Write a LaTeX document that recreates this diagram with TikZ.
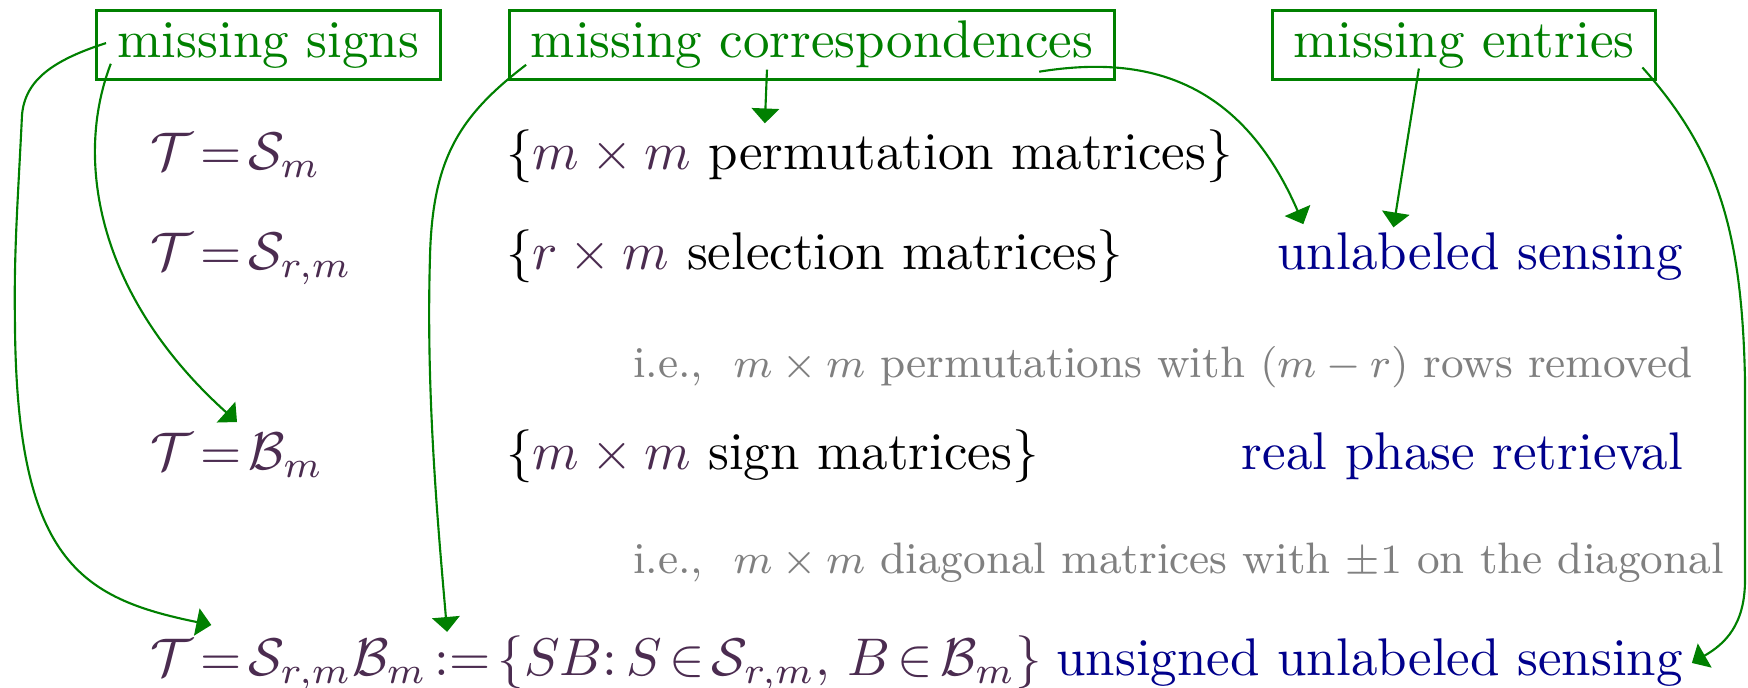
\documentclass[tikz,border=0pt]{standalone}
\usepackage{amsmath}
\usetikzlibrary{arrows.meta}
\definecolor{cue}{RGB}{0,128,0}
\definecolor{navy}{RGB}{0,0,140}
\definecolor{mathink}{HTML}{4B2C50}
\definecolor{muted}{RGB}{128,128,128}
\thickmuskip=2.5mu plus 5mu
\newcommand{\notetext}[1]{\scalebox{0.977}{#1}}

\begin{document}
\begin{tikzpicture}[x=1cm,y=1cm,>={Triangle[width=5.2pt,length=2.8pt]},
  missbox/.style={draw=cue,line width=0.6pt,text=cue,inner xsep=4pt,inner ysep=2pt,
    text height=7pt,text depth=2pt,anchor=base},
  missarrow/.style={draw=cue,->,line width=0.4pt},
  lhs/.style={inner sep=0pt,anchor=base west,text=mathink},
  setrow/.style={inner sep=0pt,anchor=base west},
  prob/.style={inner sep=0pt,anchor=base east,text=navy},
  aside/.style={inner sep=0pt,anchor=base west,text=muted,font=\fontsize{8.5}{10}\selectfont}]
  \path[use as bounding box,fill=white] (0,0) rectangle (11.592,4.562);

  % what is missing
  \node[missbox] (signs) at (1.78,4.178) {missing signs};
  \node[missbox] (corr) at (5.385,4.178) {missing correspondences};
  \node[missbox] (entries) at (9.708,4.178) {missing entries};

  % left column
  \node[lhs] (tS) at (0.99,3.435) {$\mathcal{T}=\mathcal{S}_m$};
  \node[lhs] (tSr) at (0.99,2.772) {$\mathcal{T}=\mathcal{S}_{r,m}$};
  \node[lhs] (tB) at (0.99,1.446) {$\mathcal{T}=\mathcal{B}_m$};
  \node[lhs] (tSB) at (0.99,0.08)
    {$\mathcal{T}=\mathcal{S}_{r,m}\mathcal{B}_m:=\{SB\mathpunct{:}S\in\mathcal{S}_{r,m},\,B\in\mathcal{B}_m\}$};

  % sets
  \node[setrow] (perm) at (3.35,3.435) {\{\textcolor{mathink}{$m\times m$} permutation matrices\}};
  \node[setrow] (sel) at (3.35,2.772) {\{\textcolor{mathink}{$r\times m$} selection matrices\}};
  \node[setrow] (sign) at (3.35,1.446) {\{\textcolor{mathink}{$m\times m$} sign matrices\}};
  \node[aside] (noteperm) at (4.191,2.062)
    {\notetext{i.e.,\ \ $m\times m$ permutations with $(m-r)$ rows removed}};
  \node[aside] (notediag) at (4.191,0.756)
    {\notetext{i.e.,\ \ $m\times m$ diagonal matrices with $\pm1$ on the diagonal}};

  % problems
  \node[prob] (uls) at (11.167,2.772) {unlabeled sensing};
  \node[prob] (rpr) at (11.167,1.446) {real phase retrieval};
  \node[prob] (uuls) at (11.167,0.08) {unsigned unlabeled sensing};

  % arrows
  \draw[missarrow] ([shift={(3pt,3.2pt)}]signs.south west)
    .. controls +(-0.25,-0.65) and +(-0.915,0.822) .. ([yshift=2pt]tB.north);
  \draw[missarrow] ([shift={(2.1pt,0.3pt)}]signs.west)
    .. controls +(-0.351,-0.113) and +(0.02,0.232) .. (0.146,3.8)
    .. controls +(-0.027,-0.564) and +(-0.007,0.464) .. (0.099,2.44)
    .. controls +(0.007,-1.592) and +(-0.875,0.179) .. ([shift={(11.7pt,1.9pt)}]tSB.north west);
  \draw[missarrow] ([shift={(3.4pt,3pt)}]corr.south west)
    .. controls +(-0.451,-0.345) and +(0.013,0.663) .. (2.851,2.838)
    .. controls +(-0.027,-0.928) and +(-0.053,0.623) .. ([shift={(56.2pt,0.6pt)}]tSB.north west);
  \draw[missarrow] ([shift={(-8.5pt,2.1pt)}]corr.south) -- ([shift={(49pt,1.1pt)}]perm.north west);
  \draw[missarrow] ([shift={(-14.5pt,1.7pt)}]corr.south east)
    .. controls +(0.617,0.099) and +(-0.444,1.028) .. ([shift={(5.1pt,1.5pt)}]uls.north west);
  \draw[missarrow] ([shift={(-8.5pt,2.3pt)}]entries.south) -- ([shift={(22.1pt,0.9pt)}]uls.north west);
  \draw[missarrow] ([shift={(-2.8pt,2.5pt)}]entries.south east)
    .. controls +(0.497,-0.557) and +(-0.02,0.995) .. (11.572,2.042)
    -- (11.572,0.716)
    .. controls +(0,-0.298) and +(0.219,0.126) .. ([xshift=1.5pt]uuls.east);
\end{tikzpicture}
\end{document}
